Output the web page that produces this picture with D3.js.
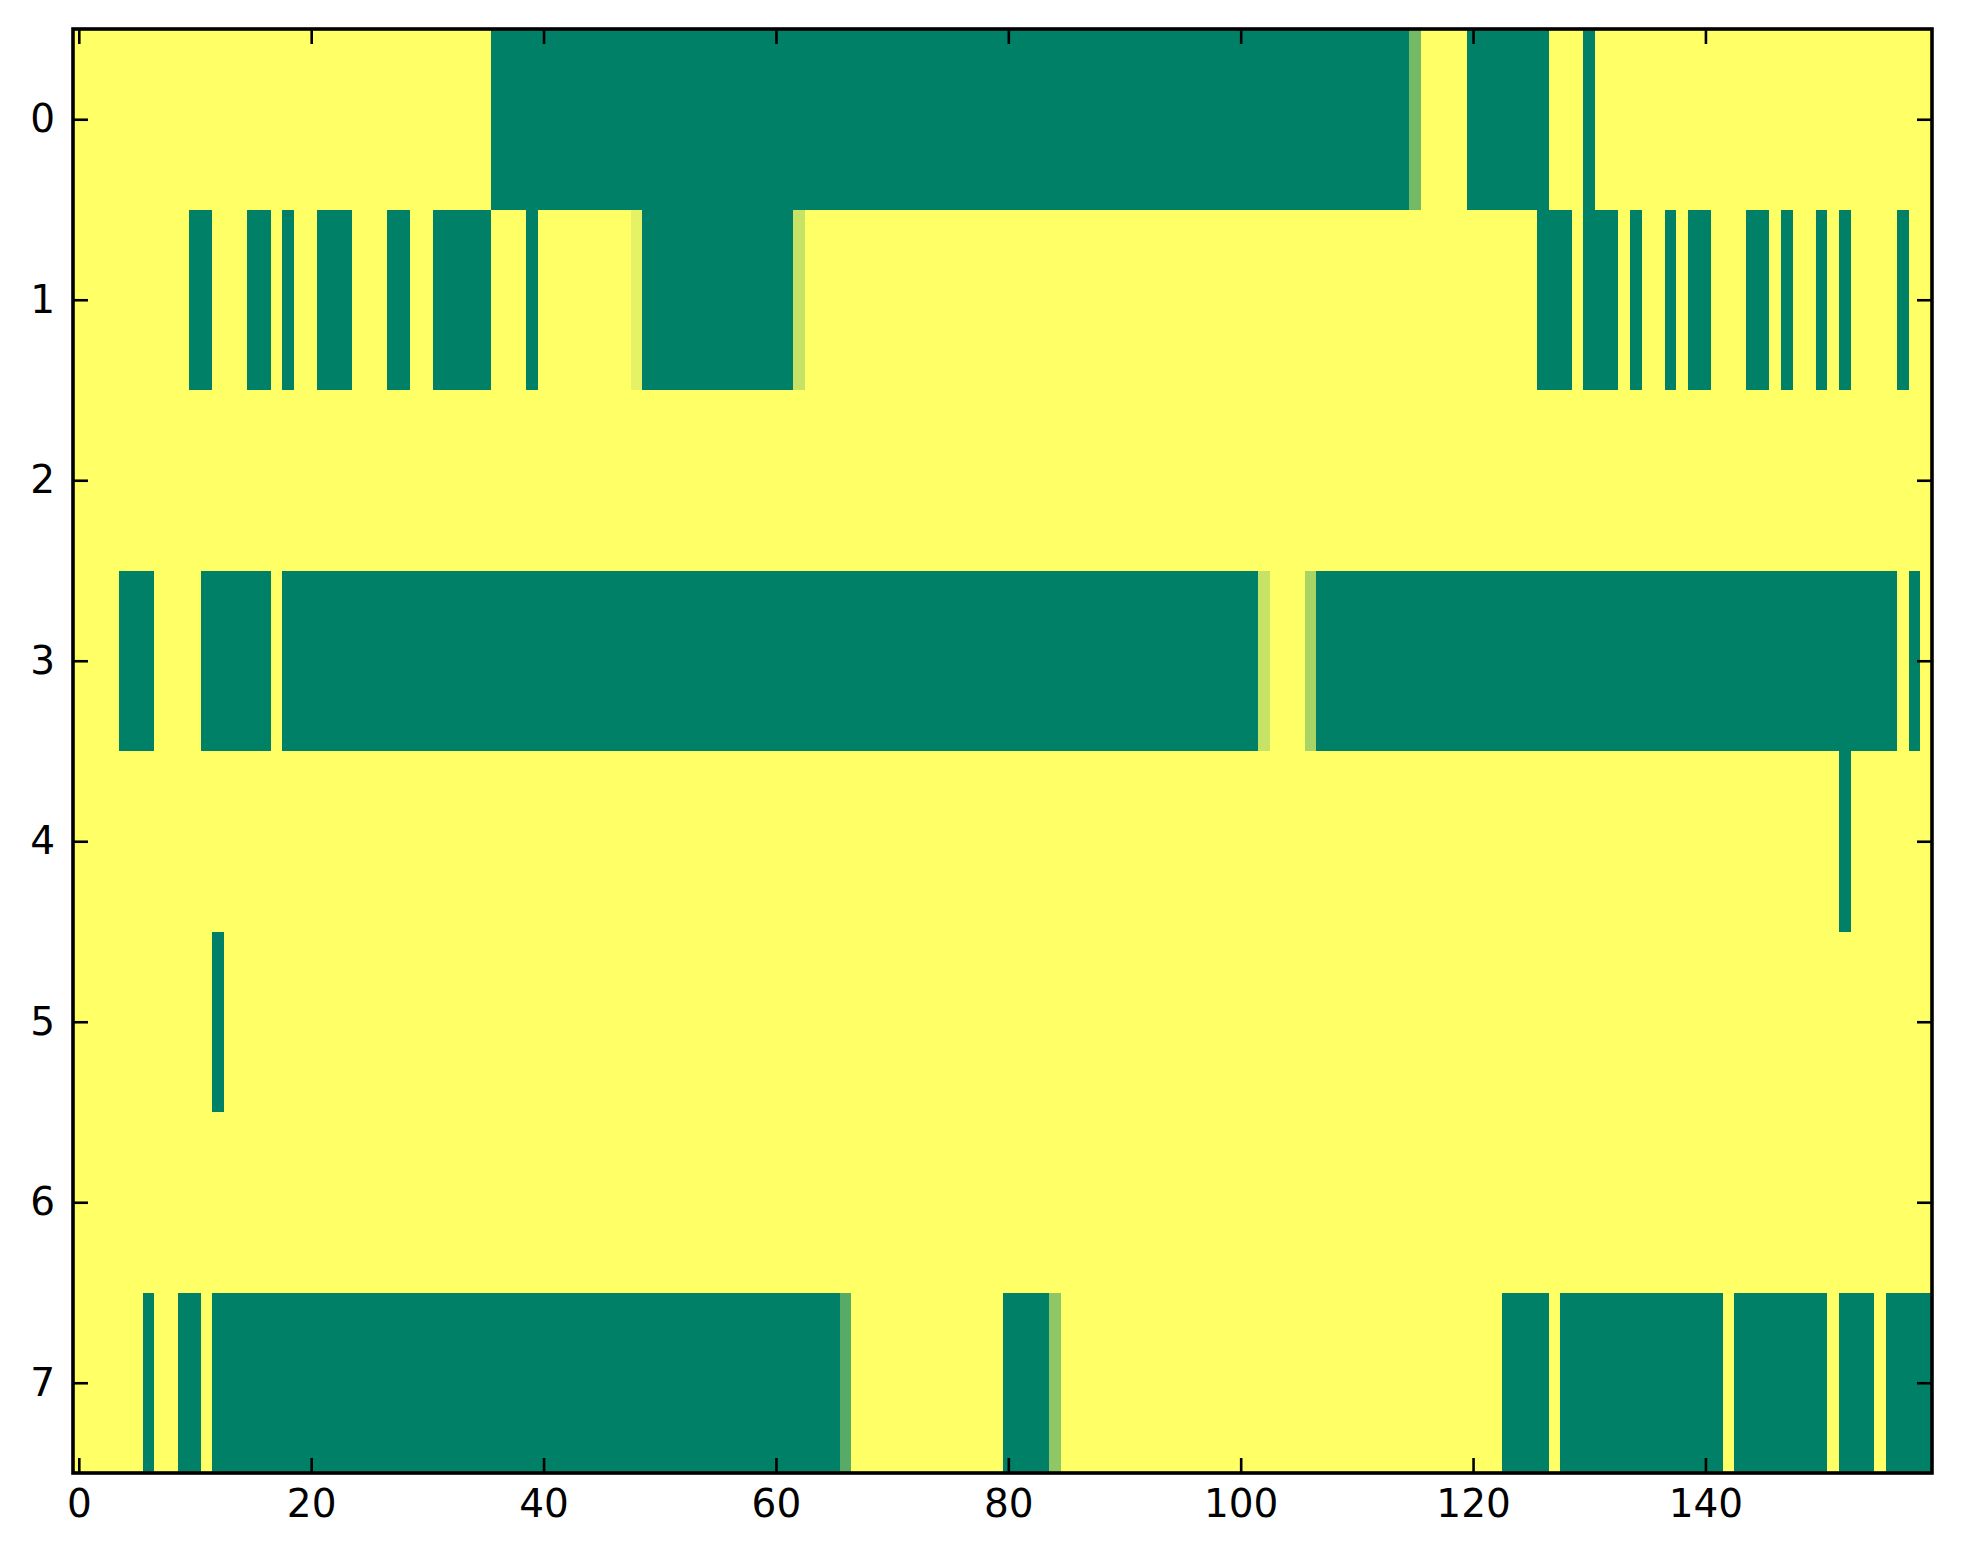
<!DOCTYPE html>
<html>
<head>
<meta charset="utf-8">
<script src="https://cdn.jsdelivr.net/npm/d3@7"></script>
<style>
  html, body { margin: 0; padding: 0; background: #ffffff; }
  svg { display: block; }
</style>
</head>
<body>
<svg id="chart" width="1963" height="1564"></svg>
<script>
// ---------------- DATA (value per cell, 0 = low, 1 = high) ----------------
const rowLabels = [0, 1, 2, 3, 4, 5, 6, 7];
const xTickValues = [0, 20, 40, 60, 80, 100, 120, 140];

const row0 = [
  1,1,1,1,1,1,1,1,1,1,1,1,1,1,1,1,1,1,1,1,
  1,1,1,1,1,1,1,1,1,1,1,1,1,1,1,1,0,0,0,0,
  0,0,0,0,0,0,0,0,0,0,0,0,0,0,0,0,0,0,0,0,
  0,0,0,0,0,0,0,0,0,0,0,0,0,0,0,0,0,0,0,0,
  0,0,0,0,0,0,0,0,0,0,0,0,0,0,0,0,0,0,0,0,
  0,0,0,0,0,0,0,0,0,0,0,0,0,0,0,0.45,1,1,1,1,
  0,0,0,0,0,0,0,1,1,1,0,1,1,1,1,1,1,1,1,1,
  1,1,1,1,1,1,1,1,1,1,1,1,1,1,1,1,1,1,1,1
];
const row1 = [
  1,1,1,1,1,1,1,1,1,1,0,0,1,1,1,0,0,1,0,1,
  1,0,0,0,1,1,1,0,0,1,1,0,0,0,0,0,1,1,1,0,
  1,1,1,1,1,1,1,1,0.9,0,0,0,0,0,0,0,0,0,0,0,
  0,0,0.78,1,1,1,1,1,1,1,1,1,1,1,1,1,1,1,1,1,
  1,1,1,1,1,1,1,1,1,1,1,1,1,1,1,1,1,1,1,1,
  1,1,1,1,1,1,1,1,1,1,1,1,1,1,1,1,1,1,1,1,
  1,1,1,1,1,1,0,0,0,1,0,0,0,1,0,1,1,0,1,0,
  0,1,1,1,0,0,1,0,1,1,0,1,0,1,1,1,1,0,1,1
];
const row2 = [
  1,1,1,1,1,1,1,1,1,1,1,1,1,1,1,1,1,1,1,1,
  1,1,1,1,1,1,1,1,1,1,1,1,1,1,1,1,1,1,1,1,
  1,1,1,1,1,1,1,1,1,1,1,1,1,1,1,1,1,1,1,1,
  1,1,1,1,1,1,1,1,1,1,1,1,1,1,1,1,1,1,1,1,
  1,1,1,1,1,1,1,1,1,1,1,1,1,1,1,1,1,1,1,1,
  1,1,1,1,1,1,1,1,1,1,1,1,1,1,1,1,1,1,1,1,
  1,1,1,1,1,1,1,1,1,1,1,1,1,1,1,1,1,1,1,1,
  1,1,1,1,1,1,1,1,1,1,1,1,1,1,1,1,1,1,1,1
];
const row3 = [
  1,1,1,1,0,0,0,1,1,1,1,0,0,0,0,0,0,1,0,0,
  0,0,0,0,0,0,0,0,0,0,0,0,0,0,0,0,0,0,0,0,
  0,0,0,0,0,0,0,0,0,0,0,0,0,0,0,0,0,0,0,0,
  0,0,0,0,0,0,0,0,0,0,0,0,0,0,0,0,0,0,0,0,
  0,0,0,0,0,0,0,0,0,0,0,0,0,0,0,0,0,0,0,0,
  0,0,0.78,1,1,1,0.66,0,0,0,0,0,0,0,0,0,0,0,0,0,
  0,0,0,0,0,0,0,0,0,0,0,0,0,0,0,0,0,0,0,0,
  0,0,0,0,0,0,0,0,0,0,0,0,0,0,0,0,0,1,0,1
];
const row4 = [
  1,1,1,1,1,1,1,1,1,1,1,1,1,1,1,1,1,1,1,1,
  1,1,1,1,1,1,1,1,1,1,1,1,1,1,1,1,1,1,1,1,
  1,1,1,1,1,1,1,1,1,1,1,1,1,1,1,1,1,1,1,1,
  1,1,1,1,1,1,1,1,1,1,1,1,1,1,1,1,1,1,1,1,
  1,1,1,1,1,1,1,1,1,1,1,1,1,1,1,1,1,1,1,1,
  1,1,1,1,1,1,1,1,1,1,1,1,1,1,1,1,1,1,1,1,
  1,1,1,1,1,1,1,1,1,1,1,1,1,1,1,1,1,1,1,1,
  1,1,1,1,1,1,1,1,1,1,1,1,0,1,1,1,1,1,1,1
];
const row5 = [
  1,1,1,1,1,1,1,1,1,1,1,1,0,1,1,1,1,1,1,1,
  1,1,1,1,1,1,1,1,1,1,1,1,1,1,1,1,1,1,1,1,
  1,1,1,1,1,1,1,1,1,1,1,1,1,1,1,1,1,1,1,1,
  1,1,1,1,1,1,1,1,1,1,1,1,1,1,1,1,1,1,1,1,
  1,1,1,1,1,1,1,1,1,1,1,1,1,1,1,1,1,1,1,1,
  1,1,1,1,1,1,1,1,1,1,1,1,1,1,1,1,1,1,1,1,
  1,1,1,1,1,1,1,1,1,1,1,1,1,1,1,1,1,1,1,1,
  1,1,1,1,1,1,1,1,1,1,1,1,1,1,1,1,1,1,1,1
];
const row6 = [
  1,1,1,1,1,1,1,1,1,1,1,1,1,1,1,1,1,1,1,1,
  1,1,1,1,1,1,1,1,1,1,1,1,1,1,1,1,1,1,1,1,
  1,1,1,1,1,1,1,1,1,1,1,1,1,1,1,1,1,1,1,1,
  1,1,1,1,1,1,1,1,1,1,1,1,1,1,1,1,1,1,1,1,
  1,1,1,1,1,1,1,1,1,1,1,1,1,1,1,1,1,1,1,1,
  1,1,1,1,1,1,1,1,1,1,1,1,1,1,1,1,1,1,1,1,
  1,1,1,1,1,1,1,1,1,1,1,1,1,1,1,1,1,1,1,1,
  1,1,1,1,1,1,1,1,1,1,1,1,1,1,1,1,1,1,1,1
];
const row7 = [
  1,1,1,1,1,1,0,1,1,0,0,1,0,0,0,0,0,0,0,0,
  0,0,0,0,0,0,0,0,0,0,0,0,0,0,0,0,0,0,0,0,
  0,0,0,0,0,0,0,0,0,0,0,0,0,0,0,0,0,0,0,0,
  0,0,0,0,0,0,0.34,1,1,1,1,1,1,1,1,1,1,1,1,1,
  0,0,0,0,0.56,1,1,1,1,1,1,1,1,1,1,1,1,1,1,1,
  1,1,1,1,1,1,1,1,1,1,1,1,1,1,1,1,1,1,1,1,
  1,1,1,0,0,0,0,1,0,0,0,0,0,0,0,0,0,0,0,0,
  0,0,1,0,0,0,0,0,0,0,0,1,0,0,0,1,0,0,0,0
];
const rows = [row0, row1, row2, row3, row4, row5, row6, row7];

// ---------------- DRAWING ----------------
(function () {
  const plotLeft = 73, plotRight = 1932, plotTop = 29, plotBottom = 1473;
  const nCols = row0.length;

  const svg = d3.select("#chart");

  const x = d3.scaleLinear().domain([-0.5, nCols - 0.5]).range([plotLeft, plotRight]);
  const y = d3.scaleLinear().domain([-0.5, rows.length - 0.5]).range([plotTop, plotBottom]);

  // matplotlib "summer" colormap: (v, 0.5 + v/2, 0.4)
  const summer = v => d3.rgb(255 * v, 255 * (0.5 + v / 2), 255 * 0.4).toString();

  const cells = [];
  rows.forEach((r, ri) => r.forEach((v, ci) => cells.push({ r: ri, c: ci, v })));

  svg.append("g")
    .attr("shape-rendering", "crispEdges")
    .selectAll("rect")
    .data(cells)
    .join("rect")
    .attr("x", d => x(d.c - 0.5))
    .attr("y", d => y(d.r - 0.5))
    .attr("width", d => x(d.c + 0.5) - x(d.c - 0.5) + 0.6)
    .attr("height", d => y(d.r + 0.5) - y(d.r - 0.5) + 0.6)
    .attr("fill", d => summer(d.v));

  const fontSize = 39;
  const tickLen = 15;

  function styleAxis(g) {
    g.select(".domain").remove();
    g.selectAll(".tick line").attr("stroke", "#000").attr("stroke-width", 2.6);
    g.selectAll(".tick text")
      .attr("fill", "#000")
      .style("font-family", "'DejaVu Sans', sans-serif")
      .style("font-size", fontSize + "px");
  }

  svg.append("g")
    .attr("transform", `translate(0,${plotBottom})`)
    .call(d3.axisBottom(x).tickValues(xTickValues).tickSize(-tickLen).tickPadding(16).tickFormat(d3.format("d")))
    .call(styleAxis);

  svg.append("g")
    .attr("transform", `translate(0,${plotTop})`)
    .call(d3.axisTop(x).tickValues(xTickValues).tickSize(-tickLen).tickFormat(""))
    .call(styleAxis);

  svg.append("g")
    .attr("transform", `translate(${plotLeft},0)`)
    .call(d3.axisLeft(y).tickValues(rowLabels).tickSize(-tickLen).tickPadding(18).tickFormat(d3.format("d")))
    .call(styleAxis);

  svg.append("g")
    .attr("transform", `translate(${plotRight},0)`)
    .call(d3.axisRight(y).tickValues(rowLabels).tickSize(-tickLen).tickFormat(""))
    .call(styleAxis);

  svg.append("rect")
    .attr("x", plotLeft)
    .attr("y", plotTop)
    .attr("width", plotRight - plotLeft)
    .attr("height", plotBottom - plotTop)
    .attr("fill", "none")
    .attr("stroke", "#000")
    .attr("stroke-width", 3.6);
})();
</script>
</body>
</html>
